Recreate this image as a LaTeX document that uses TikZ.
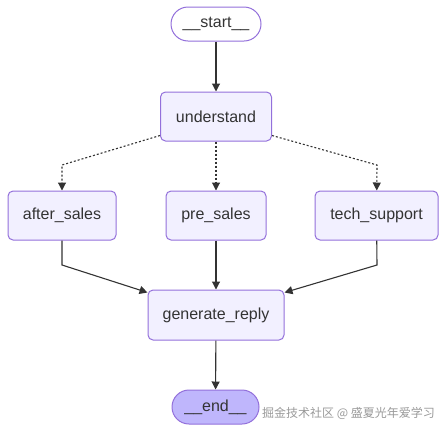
\documentclass[tikz,border=0pt]{standalone}
\usepackage{fontspec}
\setmainfont{Liberation Sans}
\newfontfamily\cjk{Noto Sans CJK SC}
\usetikzlibrary{arrows.meta,calc}
\definecolor{nodefill}{HTML}{F2F0FF}
\definecolor{nodeline}{HTML}{9370DB}
\definecolor{endfill}{HTML}{BFB6FC}
\definecolor{edgeline}{HTML}{333333}
\tikzset{
	box/.style={draw=nodeline, fill=nodefill, line width=1pt, rounded corners=5pt, minimum height=49pt, inner sep=0pt, text=edgeline, font=\fontsize{16}{19}\selectfont},
	pill/.style={box, rounded corners=17pt, minimum height=34pt},
	flow/.style={draw=edgeline, line width=1.1pt, -{Triangle[length=8pt,width=8pt]}},
	maybe/.style={flow, dash pattern=on 2pt off 2pt}
}

\begin{document}
\begin{tikzpicture}[x=1pt, y=-1pt]
		%%%%% START %%%%%
		\useasboundingbox (0, 0) rectangle (446, 432);
		
		\node[pill, fill=white, minimum width=90pt] (start) at (216, 24) {\_\_start\_\_};
		\node[box, minimum width=111pt] (understand) at (216, 116.5) {understand};
		
		\node[box, minimum width=108pt] (after) at (62, 215.5) {after\_sales};
		\node[box, minimum width=100pt] (pre) at (216, 215.5) {pre\_sales};
		\node[box, minimum width=123pt] (tech) at (376.5, 215.5) {tech\_support};
		
		\node[box, minimum width=136pt, minimum height=50pt] (reply) at (216, 315) {generate\_reply};
		\node[pill, fill=endfill, minimum width=87pt] (end) at (215.5, 407) {\_\_end\_\_};
		
		% bends
		\coordinate (kL) at (62, 165);
		\coordinate (kR) at (377, 165);
		\coordinate (jL) at (62, 265);
		\coordinate (jR) at (377, 265);
		
		\draw[flow] (start) -- (understand);
		
		\draw[maybe] ([yshift=6pt]understand.south west) -- (kL) -- (after);
		\draw[maybe] (understand) -- (pre);
		\draw[maybe] ([yshift=6pt]understand.south east) -- (kR) -- (tech);
		
		\draw[flow] (after) -- (jL) -- ([yshift=-3pt]reply.north west);
		\draw[flow] (pre) -- (reply);
		\draw[flow] (tech) -- (jR) -- ([yshift=-3pt]reply.north east);
		
		\draw[flow] (reply) -- (end);
		
		\node[anchor=west, text=black!40, inner sep=0pt] (mark) at (262, 413) {\cjk\fontsize{12}{14}\selectfont 掘金技术社区 @ 盛夏光年爱学习};
		
		%%%%% END %%%%%
	\end{tikzpicture}
\end{document}
